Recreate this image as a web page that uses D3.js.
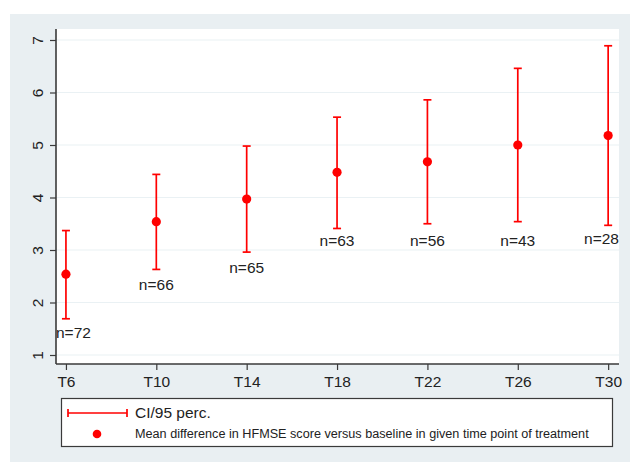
<!DOCTYPE html>
<html>
<head>
<meta charset="utf-8">
<script src="https://cdn.jsdelivr.net/npm/d3@7"></script>
<style>
  html, body { margin: 0; padding: 0; background: #ffffff; }
  svg { display: block; font-family: "Liberation Sans", Arial, Helvetica, sans-serif; }
</style>
</head>
<body>
<svg id="chart" width="630" height="462"></svg>
<script>
// ---- data ----
const timepoints = ["T6", "T10", "T14", "T18", "T22", "T26", "T30"];
const weeks      = [6, 10, 14, 18, 22, 26, 30];
const means      = [2.54, 3.54, 3.97, 4.48, 4.68, 5.00, 5.18];
const ciLower    = [1.69, 2.63, 2.96, 3.41, 3.50, 3.54, 3.47];
const ciUpper    = [3.37, 4.44, 4.98, 5.53, 5.86, 6.46, 6.89];
const nLabels    = ["n=72", "n=66", "n=65", "n=63", "n=56", "n=43", "n=28"];
const nLabelY    = [1.32, 2.23, 2.56, 3.08, 3.08, 3.08, 3.11];
const yTicks     = [1, 2, 3, 4, 5, 6, 7];
const legendLabels = ["CI/95 perc.", "Mean difference in HFMSE score versus baseline in given time point of treatment"];

const red = "#ff0000";
const axisColor = "#3a3a3a";
const gridColor = "#eaf1f4";
const bgColor = "#e9eff2";

const svg = d3.select("#chart");

// outer graph region
svg.append("rect").attr("x", 10).attr("y", 14).attr("width", 620).attr("height", 448).attr("fill", bgColor);

const plot = { left: 56, right: 619, top: 29, bottom: 364 };
svg.append("rect").attr("x", plot.left).attr("y", plot.top)
  .attr("width", plot.right - plot.left).attr("height", plot.bottom - plot.top).attr("fill", "#ffffff");

const x = d3.scaleLinear().domain([5.56, 30.48]).range([plot.left, plot.right]);
const y = d3.scaleLinear().domain([1, 7]).range([355, 40]);

// gridlines
svg.append("g").selectAll("line").data(yTicks).join("line")
  .attr("x1", plot.left).attr("x2", plot.right)
  .attr("y1", d => y(d)).attr("y2", d => y(d))
  .attr("stroke", gridColor).attr("stroke-width", 1.2);

// y axis
const yAxis = svg.append("g").attr("transform", `translate(${plot.left},0)`)
  .call(d3.axisLeft(y).tickValues(yTicks).tickSize(6).tickPadding(0).tickFormat(d3.format("d")));
yAxis.select(".domain").remove();
yAxis.selectAll(".tick line").attr("stroke", axisColor).attr("stroke-width", 1.2);
yAxis.selectAll(".tick text")
  .attr("x", null).attr("dy", null)
  .attr("transform", "translate(-13,0) rotate(-90)")
  .attr("text-anchor", "middle")
  .attr("fill", "#222").style("font-size", "15.5px");
svg.append("line").attr("x1", plot.left).attr("x2", plot.left)
  .attr("y1", plot.top).attr("y2", plot.bottom).attr("stroke", axisColor).attr("stroke-width", 1.6);

// x axis
const xAxis = svg.append("g").attr("transform", `translate(0,${plot.bottom})`)
  .call(d3.axisBottom(x).tickValues(weeks).tickSize(6).tickPadding(6).tickFormat((d, i) => timepoints[i]));
xAxis.select(".domain").remove();
xAxis.selectAll(".tick line").attr("stroke", axisColor).attr("stroke-width", 1.2);
xAxis.selectAll(".tick text").attr("fill", "#222").style("font-size", "15.5px");
svg.append("line").attr("x1", plot.left).attr("x2", plot.right)
  .attr("y1", plot.bottom).attr("y2", plot.bottom).attr("stroke", axisColor).attr("stroke-width", 1.6);

// error bars
const bars = svg.append("g").selectAll("g").data(weeks).join("g");
const capW = 4;
bars.append("line")
  .attr("x1", (d) => x(d)).attr("x2", (d) => x(d))
  .attr("y1", (d, i) => y(ciLower[i])).attr("y2", (d, i) => y(ciUpper[i]))
  .attr("stroke", red).attr("stroke-width", 1.7);
bars.append("line")
  .attr("x1", d => x(d) - capW).attr("x2", d => x(d) + capW)
  .attr("y1", (d, i) => y(ciUpper[i])).attr("y2", (d, i) => y(ciUpper[i]))
  .attr("stroke", red).attr("stroke-width", 1.7);
bars.append("line")
  .attr("x1", d => x(d) - capW).attr("x2", d => x(d) + capW)
  .attr("y1", (d, i) => y(ciLower[i])).attr("y2", (d, i) => y(ciLower[i]))
  .attr("stroke", red).attr("stroke-width", 1.7);
bars.append("circle")
  .attr("cx", d => x(d)).attr("cy", (d, i) => y(means[i])).attr("r", 4.6)
  .attr("fill", red);

// n labels (kept inside plot region)
const labels = svg.append("g").selectAll("text").data(weeks).join("text")
  .text((d, i) => nLabels[i])
  .attr("y", (d, i) => y(nLabelY[i]))
  .attr("text-anchor", "middle")
  .attr("fill", "#222").style("font-size", "15.5px");
labels.each(function(d) {
  const w = this.getComputedTextLength();
  const cx = Math.max(plot.left + w / 2, Math.min(plot.right - w / 2, x(d)));
  d3.select(this).attr("x", cx);
});

// legend
const lg = svg.append("g");
lg.append("rect").attr("x", 61.5).attr("y", 398.5).attr("width", 551).attr("height", 48)
  .attr("fill", "#ffffff").attr("stroke", axisColor).attr("stroke-width", 1.2);
const ly1 = 413, ly2 = 434;
lg.append("line").attr("x1", 68).attr("x2", 127).attr("y1", ly1).attr("y2", ly1).attr("stroke", red).attr("stroke-width", 1.7);
lg.append("line").attr("x1", 68).attr("x2", 68).attr("y1", ly1 - 4).attr("y2", ly1 + 4).attr("stroke", red).attr("stroke-width", 1.7);
lg.append("line").attr("x1", 127).attr("x2", 127).attr("y1", ly1 - 4).attr("y2", ly1 + 4).attr("stroke", red).attr("stroke-width", 1.7);
lg.append("circle").attr("cx", 97).attr("cy", ly2).attr("r", 4.3).attr("fill", red);
lg.append("text").attr("x", 135).attr("y", ly1).attr("dy", "0.35em").text(legendLabels[0])
  .attr("fill", "#222").style("font-size", "15.5px");
lg.append("text").attr("x", 135).attr("y", ly2).attr("dy", "0.35em").text(legendLabels[1])
  .attr("fill", "#222").style("font-size", "12.65px");
</script>
</body>
</html>
